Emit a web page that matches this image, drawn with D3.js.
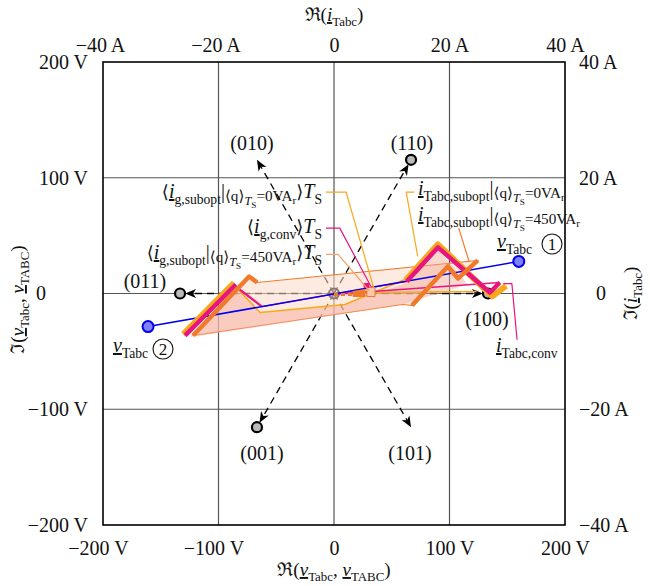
<!DOCTYPE html>
<html><head><meta charset="utf-8">
<script src="https://cdnjs.cloudflare.com/ajax/libs/d3/7.8.5/d3.min.js"></script>
<style>
body{margin:0;background:#fff}
text{font-family:"Liberation Serif","DejaVu Serif","Times New Roman",serif;fill:#111}
</style></head><body>
<script>
const width = 650, height = 586;

// tick values
const vTicks = [-200, -100, 0, 100, 200];
const aTicks = [-40, -20, 0, 20, 40];

// switching state vectors (V)
const stateNames = ["(100)", "(110)", "(010)", "(011)", "(001)", "(101)"];
const stateX = [133.3, 66.7, -66.7, -133.3, -66.7, 66.7];
const stateY = [0, 115.5, 115.5, 0, -115.5, -115.5];
const stateDot = [true, true, false, true, true, false];

// voltage v_Tabc endpoints (V)
const vTabc = [[-161, -28.6], [160, 27.7]];

// current trajectories (A)
const orangeLoop = [[-24.4,-7.27],[-14.7,2.94],[-13.3,1.9],[24.9,5.71],[21.5,2.6],[19.7,4.68],[13.5,-2.08],[11.8,-1.9]];
const salmonPoly = [[-24.9,-7.45],[-17.0,1.21],[-12.8,-3.29],[1.9,-1.9],[12.3,1.73],[18.0,7.6],[23.2,1.56],[11.8,-1.9],[-24.1,-7.45]];
const orangeThickA = [[-24.4,-7.27],[-14.7,2.94],[-13.3,1.9]];
const orangeThickB = [[13.5,-2.08],[19.7,4.68],[21.5,2.6],[24.9,5.71]];
const yellowThickA = [[-26.1,-7.0],[-17.3,1.85]];
const yellowThickB = [[12.4,2.3],[18.0,8.5],[27.4,-0.5],[29.8,1.3]];
const yellowThin = [[-16.5,0.6],[-12.8,-3.29],[1.9,-1.9],[12.3,2.4]];
const yellowFlat = [[6.2,0.17],[24.7,0.35]];
const pinkThickA = [[-25.8,-7.27],[-17.0,1.56]];
const pinkMid = [[-16.3,0.69],[-12.5,-2.25]];
const pinkThin = [[-12.5,-2.25],[12.6,2.08]];
const pinkThin2 = [[-0.7,-0.17],[28.7,1.9]];
const pinkThickB = [[12.6,2.08],[18.0,7.97],[27.0,0.17],[28.7,1.9]];

// averaged grid currents (A)
const avgDash = [[0,-0.17],[3.1,-0.17]];
const avgOrange = [[3.3,0.35],[5.37,0.69],[5.37,-0.52],[3.3,-0.52]];
const avgLight = [[5.7,1.04],[7.1,1.04],[7.1,-0.52],[5.7,-0.52]];
const avgPink = [[5.2,1.73],[6.06,1.73],[6.06,1.04],[5.2,1.04]];

// label leaders (A)
const leadAvg0 = [[-1.4,17.5],[2.1,17.5],[6.9,0.87]];
const leadAvgConv = [[-1.4,11.3],[1.0,11.3],[6.4,1.2]];
const leadAvg450 = [[-1.4,6.75],[0.7,6.75],[6.1,0.5]];
const leadT0 = [[13.9,17.5],[12.5,17.5],[14.5,6.4]];
const leadT450 = [[21.6,11.3],[23.4,5.5]];
const leadTconv = [[29.3,1.7],[30.8,1.7],[31.7,-8.0]];

const pink = "#e8157f", orange = "#f07a2a", yellow = "#f8a81c";
const serif = '"Liberation Serif", "DejaVu Serif", "Times New Roman", serif';

const svg = d3.select("body").append("svg").attr("width", width).attr("height", height);

const xV = d3.scaleLinear().domain([-200, 200]).range([103, 565]);
const yV = d3.scaleLinear().domain([-200, 200]).range([525, 62]);
const xA = d3.scaleLinear().domain([-40, 40]).range([103, 565]);
const yA = d3.scaleLinear().domain([-40, 40]).range([525, 62]);

const lineA = d3.line().x(d => xA(d[0])).y(d => yA(d[1]));

function fmt(unit) {
  return d => d === 0 ? "0" : (d < 0 ? "\u2212" : "") + Math.abs(d) + " " + unit;
}

// grid
svg.append("g").selectAll("line").data([-100, 0, 100]).join("line")
  .attr("x1", d => xV(d)).attr("x2", d => xV(d)).attr("y1", yV(200)).attr("y2", yV(-200))
  .attr("stroke", "#555").attr("stroke-width", 1.2);
svg.append("g").selectAll("line").data([-100, 0, 100]).join("line")
  .attr("y1", d => yV(d)).attr("y2", d => yV(d)).attr("x1", xV(-200)).attr("x2", xV(200))
  .attr("stroke", "#555").attr("stroke-width", 1.2);
svg.append("rect").attr("x", xV(-200)).attr("y", yV(200))
  .attr("width", xV(200) - xV(-200)).attr("height", yV(-200) - yV(200))
  .attr("fill", "none").attr("stroke", "#000").attr("stroke-width", 1.6);

// axes
function styleAxis(g) {
  g.attr("font-family", null);
  g.select(".domain").remove();
  g.selectAll("text").style("font-size", "20px").attr("fill", "#111").style("font-family", serif);
}
const ba = svg.append("g").attr("transform", `translate(0,${yV(-200)})`)
  .call(d3.axisBottom(xV).tickValues(vTicks).tickSize(0).tickPadding(16).tickFormat(fmt("V"))).call(styleAxis);
ba.selectAll(".tick").filter(d => d < 0).select("text").attr("dx", -5);
const ta = svg.append("g").attr("transform", `translate(0,${yV(200)})`)
  .call(d3.axisTop(xA).tickValues(aTicks).tickSize(0).tickPadding(10).tickFormat(fmt("A"))).call(styleAxis);
ta.selectAll(".tick").filter(d => d < 0).select("text").attr("dx", -3);
const la = svg.append("g").attr("transform", `translate(${xV(-200)},0)`)
  .call(d3.axisLeft(yV).tickValues(vTicks).tickSize(0).tickPadding(15).tickFormat(fmt("V"))).call(styleAxis);
la.selectAll(".tick").filter(d => d === 0).select("text").attr("x", -62).attr("text-anchor", "middle");
const ra = svg.append("g").attr("transform", `translate(${xV(200)},0)`)
  .call(d3.axisRight(yA).tickValues(aTicks).tickSize(0).tickPadding(14).tickFormat(fmt("A"))).call(styleAxis);
ra.selectAll(".tick").filter(d => d === 0).select("text").attr("x", 36).attr("text-anchor", "middle");

// rich text: each part has a size factor s and a baseline offset o (in em of base size)
const LV = [{o: 0, s: 1}, {o: 0.28, s: 0.68}, {o: 0.5, s: 0.5}];
function rich(g, x, y, parts, anchor, size) {
  const t = g.append("text").attr("x", x).attr("y", y)
    .attr("text-anchor", anchor || "start").style("font-size", size + "px");
  let prev = 0;
  parts.forEach(p => {
    const lv = LV[p.l || 0];
    const o = p.o !== undefined ? p.o : lv.o, s = p.s || lv.s;
    const ts = t.append("tspan").text(p.t)
      .attr("dy", ((o - prev) * size).toFixed(2))
      .style("font-size", (s * size).toFixed(1) + "px");
    if (p.i) ts.style("font-style", "italic");
    if (p.u) ts.style("text-decoration", "underline");
    prev = o;
  });
  return t;
}

// axis titles
const I = (sub) => [{t: "i", i: 1, u: 1}, {t: sub, l: 1}];
const V = (sub) => [{t: "v", i: 1, u: 1}, {t: sub, l: 1}];
const Q = (val) => [{t: "|"}, {t: "\u27E8q\u27E9", o: 0.14, s: 0.76}, {t: "T", i: 1, o: 0.34, s: 0.62},
  {t: "S", o: 0.52, s: 0.46}, {t: "=" + val + "VA", o: 0.14, s: 0.76}, {t: "r", o: 0.32, s: 0.56}];
rich(svg, xV(0), 21, [{t: "\u211C("}, ...I("Tabc"), {t: ")"}], "middle", 19);
rich(svg, xV(0), 576, [{t: "\u211C("}, ...V("Tabc"), {t: ", "}, ...V("TABC"), {t: ")"}], "middle", 19);
rich(svg.append("g").attr("transform", `translate(24,${yV(0) + 6}) rotate(-90)`), 0, 0,
  [{t: "\u2111("}, ...V("Tabc"), {t: ", "}, ...V("TABC"), {t: ")"}], "middle", 19);
rich(svg.append("g").attr("transform", `translate(637,${yV(0)}) rotate(-90)`), 0, 0,
  [{t: "\u2111("}, ...I("Tabc"), {t: ")"}], "middle", 19);

// state vectors
const states = stateNames.map((n, i) => ({name: n, x: stateX[i], y: stateY[i], dot: stateDot[i]}));
const vecG = svg.append("g");
states.forEach(s => {
  const px = xV(s.x), py = yV(s.y), ox = xV(0), oy = yV(0);
  const L = Math.hypot(px - ox, py - oy), ux = (px - ox) / L, uy = (py - oy) / L;
  const tip = s.dot ? L - 5 : L;
  const tx = ox + ux * tip, ty = oy + uy * tip;
  vecG.append("line").attr("x1", ox).attr("y1", oy).attr("x2", tx - ux * 8).attr("y2", ty - uy * 8)
    .attr("stroke", "#000").attr("stroke-width", 1.3).attr("stroke-dasharray", "7,5");
  const bx = tx - ux * 11, by = ty - uy * 11;
  vecG.append("path")
    .attr("d", `M${tx},${ty}L${bx - uy * 4.5},${by + ux * 4.5}L${bx + ux * 3},${by + uy * 3}L${bx + uy * 4.5},${by - ux * 4.5}Z`)
    .attr("fill", "#000");
  if (s.dot) vecG.append("circle").attr("cx", px).attr("cy", py).attr("r", 5)
    .attr("fill", "#bbb").attr("stroke", "#000").attr("stroke-width", 2.2);
});
vecG.append("circle").attr("cx", xV(0)).attr("cy", yV(0)).attr("r", 5)
  .attr("fill", "none").attr("stroke", "#000").attr("stroke-width", 2);

const stateLabelPos = {"(010)": [252, 150], "(110)": [412, 150], "(011)": [145, 288],
  "(100)": [487, 326], "(001)": [262, 460], "(101)": [410, 460]};
states.forEach(s => {
  const p = stateLabelPos[s.name];
  svg.append("text").attr("x", p[0]).attr("y", p[1]).attr("text-anchor", "middle")
    .style("font-size", "20px").text(s.name);
});

// fills
const tr = svg.append("g");
tr.append("path").attr("d", lineA(orangeLoop) + "Z").attr("fill", "#fbd9c8").attr("fill-opacity", 0.55)
  .attr("stroke", orange).attr("stroke-width", 1.1);
tr.append("path").attr("d", lineA(salmonPoly) + "Z").attr("fill", "#f4a896").attr("fill-opacity", 0.45)
  .attr("stroke", "none");

// thin lines
const thin = (d, c, w) => tr.append("path").attr("d", lineA(d)).attr("fill", "none")
  .attr("stroke", c).attr("stroke-width", w).attr("stroke-linejoin", "round");
thin(yellowThin, yellow, 1.6);
thin(yellowFlat, yellow, 1.6);
thin(pinkThin, pink, 1.3);
thin(pinkThin2, pink, 1.3);
thin(pinkMid, pink, 2.2);

// blue voltage line
tr.append("path").attr("d", d3.line().x(d => xV(d[0])).y(d => yV(d[1]))(vTabc))
  .attr("stroke", "#0000ee").attr("stroke-width", 1.5);

// thick lines
thin(yellowThickA, yellow, 6);
thin(yellowThickB, yellow, 6);
thin(pinkThickA, pink, 4.5);
thin(pinkThickB, pink, 4.5);
thin(orangeThickA, orange, 4.5);
thin(orangeThickB, orange, 4.5);

// averaged grid currents
thin(avgDash, orange, 3).attr("stroke-dasharray", "4,3");
tr.append("path").attr("d", lineA(avgOrange) + "Z").attr("fill", orange).attr("stroke", orange);
tr.append("path").attr("d", lineA(avgLight) + "Z").attr("fill", "#fbc9ad").attr("stroke", orange).attr("stroke-width", 1);
tr.append("path").attr("d", lineA(avgPink) + "Z").attr("fill", pink).attr("stroke", pink);

// blue dots
vTabc.forEach(d => svg.append("circle").attr("cx", xV(d[0])).attr("cy", yV(d[1])).attr("r", 5.5)
  .attr("fill", "#8080ff").attr("stroke", "#0000ee").attr("stroke-width", 2));

// leaders
thin(leadAvg0, yellow, 1.2);
thin(leadAvgConv, pink, 1.2);
thin(leadAvg450, "#f5a070", 1.2);
thin(leadT0, yellow, 1.2);
thin(leadT450, orange, 1.2);
thin(leadTconv, pink, 1.2);

// labels
const lab = svg.append("g");
const lb = {t: "\u27E8", s: 0.9}, rb = {t: "\u27E9", s: 0.9};
const TS = [{t: "T", i: 1}, {t: "S", l: 1}];
rich(lab, 322, 198, [lb, ...I("g,subopt"), ...Q("0"), rb, ...TS], "end", 20);
rich(lab, 322, 233, [lb, ...I("g,conv"), rb, ...TS], "end", 20);
rich(lab, 322, 259, [lb, ...I("g,subopt"), ...Q("450"), rb, ...TS], "end", 20);
rich(lab, 418, 195, [...I("Tabc,subopt"), ...Q("0")], "start", 20);
rich(lab, 418, 221, [...I("Tabc,subopt"), ...Q("450")], "start", 20);
rich(lab, 496, 352, I("Tabc,conv"), "start", 20);
rich(lab, 497, 248, V("Tabc"), "start", 20);
rich(lab, 113, 352, V("Tabc"), "start", 20);

// circled numbers
[["1", 552, 244], ["2", 163, 349]].forEach(c => {
  lab.append("circle").attr("cx", c[1]).attr("cy", c[2]).attr("r", 10)
    .attr("fill", "none").attr("stroke", "#111").attr("stroke-width", 1.1);
  lab.append("text").attr("x", c[1]).attr("y", c[2] + 6).attr("text-anchor", "middle")
    .style("font-size", "17px").text(c[0]);
});
</script>
</body></html>
